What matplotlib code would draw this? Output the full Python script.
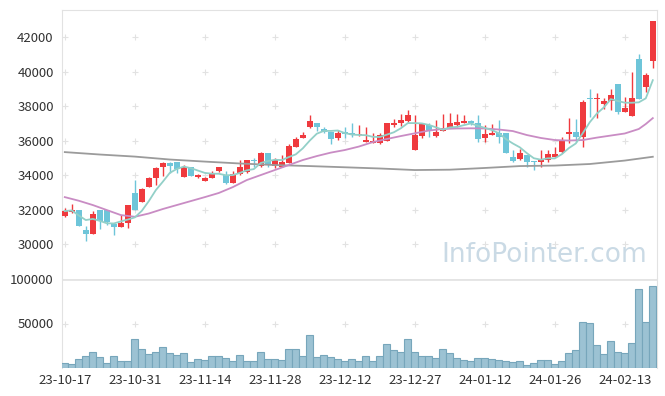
import matplotlib
matplotlib.use('Agg')
import matplotlib.pyplot as plt
import numpy as np
import pandas as pd

plt.rcParams['font.family'] = ['Noto Sans CJK KR', 'DejaVu Sans']

# daily candles
opens = [31620, 31870, 31970, 30810, 30600, 31970, 31970, 31160, 31000, 31200,
         32980, 32450, 33320, 33810, 34480, 34680, 34760, 33900, 34450, 33900,
         33670, 33850, 34250, 34000, 33560, 34040, 34190, 34870, 34540, 35260,
         34520, 34480, 34720, 35640, 36160, 36770, 37000, 36650, 36510, 36160,
         36500, 36420, 36320, 35930, 35870, 35840, 35990, 36920, 37000, 37150,
         35450, 36280, 36900, 36280, 36550, 36740, 36900, 37040, 37120, 37000,
         36160, 36340, 36450, 36420, 35030, 34910, 35160, 34830, 34730, 34870,
         35060, 35350, 36380, 36480, 36220, 38470, 38390, 38100, 38310, 39280,
         37670, 37440, 40730, 39090, 40610]
highs = [32090, 32320, 32000, 31060, 31910, 31990, 31990, 31180, 31680, 32280,
         33710, 33230, 33900, 34470, 34740, 34770, 34760, 34580, 34470, 34040,
         33900, 34230, 34470, 34250, 34230, 34870, 34880, 34990, 35350, 35280,
         34990, 35160, 35800, 36210, 36480, 37480, 37020, 36800, 36520, 36610,
         36790, 37000, 36900, 36770, 36450, 36440, 37040, 37230, 37540, 37770,
         37480, 37040, 37000, 37190, 37540, 37580, 37540, 37480, 37190, 37480,
         36900, 36940, 37190, 36430, 35450, 35490, 35170, 34840, 35450, 35450,
         35640, 36190, 37290, 37230, 38350, 38990, 38780, 38450, 38970, 39290,
         38510, 39960, 41000, 39900, 42930]
lows = [31570, 31800, 31040, 30170, 30580, 30850, 31100, 30520, 30960, 30950,
        31950, 32420, 33290, 33420, 33940, 34100, 34100, 33890, 33930, 33850,
        33650, 33810, 34190, 33460, 33520, 34000, 34100, 34480, 34480, 34480,
        34410, 34440, 34700, 35610, 36130, 36740, 36570, 36420, 35780, 36030,
        36150, 36220, 36280, 35920, 35840, 35800, 35970, 36800, 36840, 37090,
        35440, 36130, 36220, 36220, 36540, 36710, 36800, 37030, 36900, 35930,
        35930, 36320, 35840, 35260, 34770, 34870, 34480, 34290, 34480, 34770,
        35030, 35260, 35840, 35930, 35610, 37380, 37290, 37810, 37770, 37520,
        37660, 37430, 38400, 38820, 40230]
closes = [31910, 31990, 31060, 30600, 31720, 31350, 31290, 31000, 31200, 32260,
          31970, 33190, 33810, 34390, 34700, 34540, 34330, 34480, 33960, 34000,
          33850, 34100, 34470, 33520, 34040, 34480, 34870, 34810, 35300, 34580,
          34870, 34780, 35680, 36090, 36320, 37130, 36770, 36480, 36090, 36450,
          36380, 36340, 36360, 36030, 35970, 36320, 37030, 37040, 37190, 37480,
          36320, 36940, 36610, 36510, 36740, 37020, 37060, 37130, 37000, 36090,
          36380, 36450, 36220, 35300, 34810, 35260, 34770, 34740, 34870, 35220,
          35220, 35990, 36500, 36220, 38220, 38390, 38470, 38290, 38640, 37670,
          37910, 38450, 38410, 39800, 42930]
volumes = [5300, 4200, 9800, 13100, 17600, 12000, 5300, 13100, 7500, 7500,
           32300, 21000, 15400, 17600, 23300, 16500, 14300, 16500, 6400, 9800,
           8700, 13100, 13100, 10900, 7500, 14300, 7500, 7500, 17600, 9800,
           9800, 8700, 21000, 21000, 13100, 36700, 12000, 14300, 12000, 9800,
           7500, 9800, 7500, 13100, 7500, 13100, 26600, 19900, 17600, 32300,
           17600, 13100, 13100, 10900, 21000, 16500, 10900, 8700, 7500, 10900,
           10900, 9800, 8700, 7500, 6400, 7500, 3000, 5300, 8700, 8700,
           4200, 7500, 16500, 19900, 51400, 50300, 25500, 15400, 30000, 17600,
           16500, 27700, 88400, 52000, 91800]

# longer moving averages, read at sampled days
ma20_idx = [0, 2, 4, 6, 8, 10, 12, 14, 16, 18, 20, 22, 24, 26, 28, 30, 32, 34, 36, 38,
            40, 42, 44, 46, 48, 50, 52, 54, 56, 58, 60, 62, 64, 66, 68, 70, 72, 74, 76, 78,
            80, 82, 83, 84]
ma20 = [32720, 32510, 32260, 31970, 31680, 31580, 31770, 32030, 32260, 32490,
        32720, 32960, 33300, 33710, 34000, 34290, 34580, 34870, 35100, 35300,
        35450, 35650, 35910, 36090, 36260, 36420, 36580, 36670, 36700, 36710,
        36700, 36640, 36550, 36320, 36150, 36030, 36000, 36030, 36170, 36290,
        36410, 36670, 36960, 37300]
ma120_idx = [0, 5, 10, 15, 20, 25, 30, 35, 40, 45, 50, 55, 60, 65, 70, 75, 80, 84]
ma120 = [35330, 35190, 35070, 34900, 34780, 34670, 34580, 34520, 34450, 34380,
         34290, 34310, 34410, 34520, 34550, 34640, 34840, 35060]

date_ticks = [0, 10, 20, 30, 40, 50, 60, 70, 80]
date_labels = ['23-10-17', '23-10-31', '23-11-14', '23-11-28', '23-12-12',
               '23-12-27', '24-01-12', '24-01-26', '24-02-13']
price_ticks = [30000, 32000, 34000, 36000, 38000, 40000, 42000]
vol_ticks = [50000, 100000]

UP = '#ef3a3e'
DOWN = '#6ec5d9'
GRID = '#e2e2e2'
SPINE = '#e2e2e2'

df = pd.DataFrame({'o': opens, 'h': highs, 'l': lows, 'c': closes, 'v': volumes})
x = np.arange(len(df))
ma5 = df['c'].rolling(5, min_periods=1).mean()

fig = plt.figure(figsize=(6.65, 3.96), dpi=100)
ax = fig.add_axes([62 / 665, 1 - 278 / 396, 595 / 665, 268 / 396])
axv = fig.add_axes([62 / 665, 1 - 368 / 396, 595 / 665, 89 / 396], sharex=ax)

# watermark
ax.text(0.81, 0.085, 'InfoPointer.com', transform=ax.transAxes, ha='center', va='center',
        fontsize=19, color='#cadae5', family='DejaVu Sans', zorder=0)

# grid crosses
gx, gy = np.meshgrid(date_ticks, price_ticks)
ax.scatter(gx.ravel(), gy.ravel(), marker='+', s=14, color=GRID, linewidths=0.8, zorder=1)

colors = [UP if c >= o else DOWN for o, c in zip(df['o'], df['c'])]
ax.vlines(x, df['l'], df['h'], colors=colors, linewidth=1, zorder=3)
bottoms = np.minimum(df['o'], df['c'])
heights = np.maximum((df['c'] - df['o']).abs(), 40)
ax.bar(x, heights, bottom=bottoms, width=0.78, color=colors, zorder=4)

ax.plot(ma120_idx, ma120, color='#9b9b9b', lw=1.3, zorder=5)
ax.plot(ma20_idx, ma20, color='#c98cc4', lw=1.3, zorder=5)
ax.plot(x, ma5, color='#93d0c8', lw=1.3, zorder=5)

ax.set_xlim(-0.4, 84.6)
ax.set_ylim(28030, 43570)
ax.set_yticks(price_ticks)
ax.set_yticklabels([str(t) for t in price_ticks])
ax.tick_params(axis='y', length=0, labelsize=9.5, labelcolor='#333333', pad=6)
ax.tick_params(axis='x', length=0, labelbottom=False)
for s in ['left', 'top', 'right']:
    ax.spines[s].set_color(SPINE)
ax.spines['bottom'].set_visible(False)

# volume panel
axv.bar(x, df['v'], width=1.0, color='#9cc2d3', edgecolor='#77a6bb', linewidth=0.8, zorder=3)
axv.axhline(100000, color='#e4e4e4', lw=2, zorder=1)
axv.scatter(date_ticks, [50000] * len(date_ticks), marker='+', s=14, color=GRID,
            linewidths=0.8, zorder=1)
axv.set_ylim(0, 100000)
axv.set_yticks(vol_ticks)
axv.set_yticklabels([str(t) for t in vol_ticks])
axv.set_xticks(date_ticks)
axv.set_xticklabels(date_labels)
axv.tick_params(length=0, labelsize=9.5, labelcolor='#333333')
axv.tick_params(axis='y', pad=6)
axv.tick_params(axis='x', pad=4)
for s in ['left', 'right']:
    axv.spines[s].set_color(SPINE)
axv.spines['top'].set_visible(False)
axv.spines['bottom'].set_visible(False)

fig.savefig('out.png', dpi=100)
